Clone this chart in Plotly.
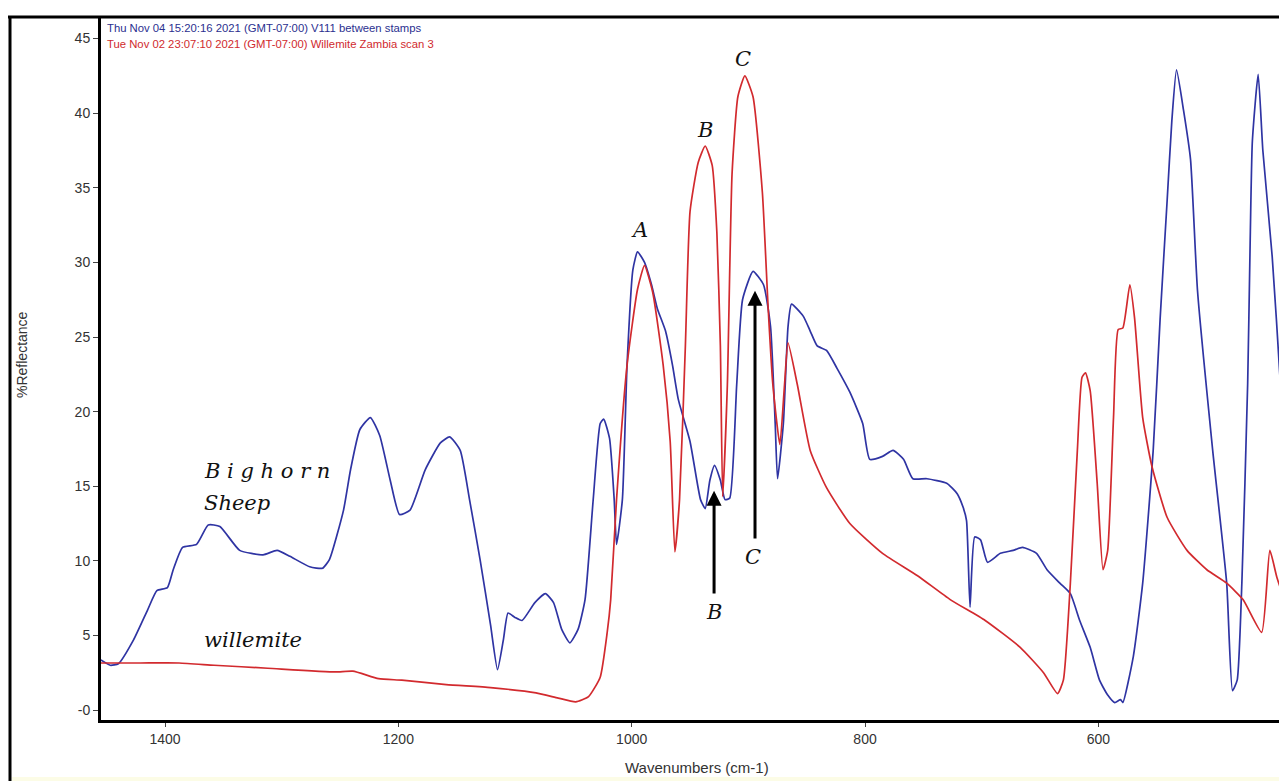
import plotly.graph_objects as go

# Bighorn Sheep (blue) spectrum: wavenumber (cm-1), % reflectance
sheep_wn = [1455, 1447, 1440, 1427, 1415, 1407, 1398, 1393, 1385, 1373, 1363, 1353, 1336, 1316, 1304,
            1293, 1276, 1265, 1259, 1247, 1241, 1233, 1224, 1216, 1207, 1199, 1190, 1177, 1164, 1156,
            1147, 1139, 1130, 1121, 1115, 1110, 1106, 1100, 1094, 1083, 1074, 1067, 1060, 1053, 1046,
            1040, 1033, 1027, 1024, 1019, 1015, 1013, 1008, 1004, 999, 995, 989, 983, 978, 971, 965,
            960, 950, 941, 937, 933, 929, 924, 920, 916, 910, 905, 896, 887, 881, 877, 875, 870, 866,
            863, 853, 847, 841, 833, 824, 813, 802, 796, 785, 776, 767, 759, 747, 730, 721, 716, 713,
            710, 706, 701, 695, 684, 673, 665, 653, 644, 633, 624, 616, 607, 599, 592, 586, 581, 579,
            570, 562, 553, 547, 541, 537, 533, 527, 521, 515, 502, 490, 485, 481, 477, 472, 470, 468,
            463, 459, 451, 444, 440, 438, 436]
sheep_val = [3.35, 3.0, 3.1, 4.7, 6.7, 8.0, 8.2, 9.4, 10.9, 11.1, 12.4, 12.3, 10.7, 10.4, 10.7,
             10.3, 9.6, 9.5, 10.1, 13.4, 16.1, 18.8, 19.6, 18.4, 15.4, 13.1, 13.4, 16.1, 17.9, 18.3,
             17.4, 14.1, 10.1, 5.7, 2.7, 4.7, 6.5, 6.2, 6.0, 7.2, 7.8, 7.2, 5.4, 4.5, 5.4,
             7.4, 14.1, 19.2, 19.5, 18.2, 14.1, 11.1, 14.1, 23.1, 29.5, 30.7, 30.0, 28.5, 26.9, 25.4, 23.1,
             20.8, 18.0, 14.1, 13.5, 15.4, 16.4, 15.4, 14.1, 14.2, 21.8, 27.5, 29.4, 28.5, 25.7, 19.2, 15.5, 19.2, 25.7,
             27.2, 26.4, 25.4, 24.4, 24.1, 22.9, 21.3, 19.2, 16.8, 17.0, 17.4, 16.8, 15.5, 15.5, 15.2, 14.5, 13.6, 12.7,
             6.9, 11.6, 11.4, 9.9, 10.5, 10.7, 10.9, 10.5, 9.4, 8.5, 7.8, 6.0, 4.2, 2.0, 1.0, 0.5, 0.7, 0.5,
             3.6, 8.5, 17.4, 26.3, 34.2, 39.5, 42.9, 40.2, 36.9, 28.1, 17.4, 8.5, 1.3, 2.0, 8.5, 21.9, 30.8, 38.1,
             42.6, 37.5, 30.4, 21.9, 15.2, 12.3, 11.4]

# Willemite Zambia (red) spectrum
will_wn = [1455, 1421, 1388, 1358, 1312, 1254, 1239, 1217, 1197, 1159, 1121, 1082, 1063, 1048, 1037,
           1027, 1021, 1018, 1013, 1004, 995, 989, 982, 973, 967, 963, 959, 954, 950, 943, 937, 931,
           927, 924, 922, 918, 914, 909, 903, 896, 888, 883, 879, 873, 869, 866, 858, 847, 833, 813,
           785, 755, 727, 697, 667, 647, 635, 630, 624, 618, 614, 611, 607, 601, 596, 592, 587, 583,
           579, 573, 569, 562, 554, 541, 524, 507, 490, 476, 460, 453, 447, 440, 436]
will_val = [3.15, 3.15, 3.15, 3.0, 2.8, 2.55, 2.6, 2.1, 2.0, 1.7, 1.5, 1.15, 0.8, 0.55, 0.9,
            2.2, 5.2, 7.4, 14.1, 23.1, 28.2, 29.8, 28.0, 23.1, 18.0, 10.6, 14.1, 24.4, 33.4, 36.7, 37.8, 36.5,
            32.0, 24.4, 14.3, 21.8, 35.9, 41.1, 42.5, 41.1, 34.7, 26.9, 21.8, 17.8, 21.8, 24.6, 21.8, 17.4, 14.9, 12.5,
            10.5, 9.0, 7.4, 6.0, 4.2, 2.5, 1.1, 2.0, 8.5, 17.4, 22.3, 22.6, 21.4, 15.2, 9.4, 10.7, 19.6, 25.5,
            25.6, 28.5, 26.3, 19.6, 16.3, 12.9, 10.7, 9.4, 8.5, 7.4, 5.2, 10.7, 8.9, 7.4, 7.0]

y_ticks = [0, 5, 10, 15, 20, 25, 30, 35, 40, 45]
y_ticktext = ["-0", "5", "10", "15", "20", "25", "30", "35", "40", "45"]
x_ticks = [1400, 1200, 1000, 800, 600]

header_blue = "Thu Nov 04 15:20:16 2021 (GMT-07:00) V111 between stamps"
header_red = "Tue Nov 02 23:07:10 2021 (GMT-07:00) Willemite Zambia scan 3"

BLUE = "#2f34a3"
RED = "#d22a2e"
SERIF = "DejaVu Serif"

fig = go.Figure()
fig.add_trace(go.Scatter(x=sheep_wn, y=sheep_val, mode="lines",
                         line=dict(color=BLUE, width=1.7, shape="spline", smoothing=0.5),
                         showlegend=False))
fig.add_trace(go.Scatter(x=will_wn, y=will_val, mode="lines",
                         line=dict(color=RED, width=1.7, shape="spline", smoothing=0.5),
                         showlegend=False))

OFF = 8  # default page body margin
W, H = 1287 - OFF, 781 - OFF
L = 101 - OFF
T = 18 - OFF
B = H - (720 - OFF)
R = 0
pw, ph = W - L - R, H - T - B


def px(xp):
    return (xp - OFF - L) / pw


def py(yp):
    return (H - B - (yp - OFF)) / ph


annos = []
annos.append(dict(x=px(105), y=py(28), xref="paper", yref="paper", text=header_blue,
                  showarrow=False, xanchor="left", yanchor="middle",
                  font=dict(family="Liberation Sans", size=11.3, color="#2b2f8f")))
annos.append(dict(x=px(105), y=py(44), xref="paper", yref="paper", text=header_red,
                  showarrow=False, xanchor="left", yanchor="middle",
                  font=dict(family="Liberation Sans", size=11.3, color="#d02a2e")))
annos.append(dict(x=px(22), y=py(355), xref="paper", yref="paper", text="%Reflectance",
                  showarrow=False, textangle=-90, xanchor="center", yanchor="middle",
                  font=dict(family="Liberation Sans", size=14, color="#333333")))
annos.append(dict(x=px(697), y=py(767), xref="paper", yref="paper", text="Wavenumbers (cm-1)",
                  showarrow=False, xanchor="center", yanchor="middle",
                  font=dict(family="Liberation Sans", size=15, color="#333333")))
lab_font = dict(family=SERIF, size=21, color="#111111")
annos.append(dict(x=1368, y=16.0, text="<i>B i g h o r n</i>", showarrow=False,
                  xanchor="left", yanchor="middle", font=lab_font))
annos.append(dict(x=1368, y=13.9, text="<i>Sheep</i>", showarrow=False,
                  xanchor="left", yanchor="middle", font=lab_font))
annos.append(dict(x=1368, y=4.7, text="<i>willemite</i>", showarrow=False,
                  xanchor="left", yanchor="middle", font=lab_font))
for xx, yy, t in [(993, 32.2, "A"), (937, 38.9, "B"), (905, 43.6, "C"),
                  (929.4, 6.6, "B"), (896, 10.25, "C")]:
    annos.append(dict(x=xx, y=yy, text="<i>" + t + "</i>", showarrow=False,
                      xanchor="center", yanchor="middle", font=dict(family=SERIF, size=21, color="#111111")))
for xx, y0, y1 in [(929.4, 7.7, 14.7), (894.3, 11.4, 28.1)]:
    annos.append(dict(x=xx, y=y1, ax=xx, ay=y0, xref="x", yref="y", axref="x", ayref="y",
                      text="", showarrow=True, arrowhead=2, arrowsize=1.0, arrowwidth=3,
                      arrowcolor="#000000"))

shapes = [
    dict(type="line", xref="paper", yref="paper", x0=px(7), x1=px(1290), y0=py(17), y1=py(17),
         line=dict(color="#000000", width=3)),
    dict(type="line", xref="paper", yref="paper", x0=px(10), x1=px(10), y0=py(17), y1=py(781),
         line=dict(color="#000000", width=3)),
    dict(type="rect", xref="paper", yref="paper", x0=px(12), x1=px(1290), y0=py(777), y1=py(782),
         fillcolor="#fcfce6", line=dict(width=0)),
]

fig.update_layout(
    width=W, height=H,
    margin=dict(l=L, r=R, t=T, b=B, pad=0),
    paper_bgcolor="white", plot_bgcolor="white",
    annotations=annos, shapes=shapes,
    xaxis=dict(range=[1454.9, 438.3], tickvals=x_ticks, showgrid=False, zeroline=False,
               showline=True, linecolor="#000000", linewidth=3, ticks="outside", ticklen=4,
               tickcolor="#444444", tickfont=dict(family="Liberation Sans", size=14, color="#333333")),
    yaxis=dict(range=[-0.67, 46.38], tickvals=y_ticks, ticktext=y_ticktext, showgrid=False,
               zeroline=False, showline=True, linecolor="#000000", linewidth=3, ticks="outside",
               ticklen=5, tickcolor="#444444",
               tickfont=dict(family="Liberation Sans", size=14, color="#333333")),
)

fig.write_html("out.html")
